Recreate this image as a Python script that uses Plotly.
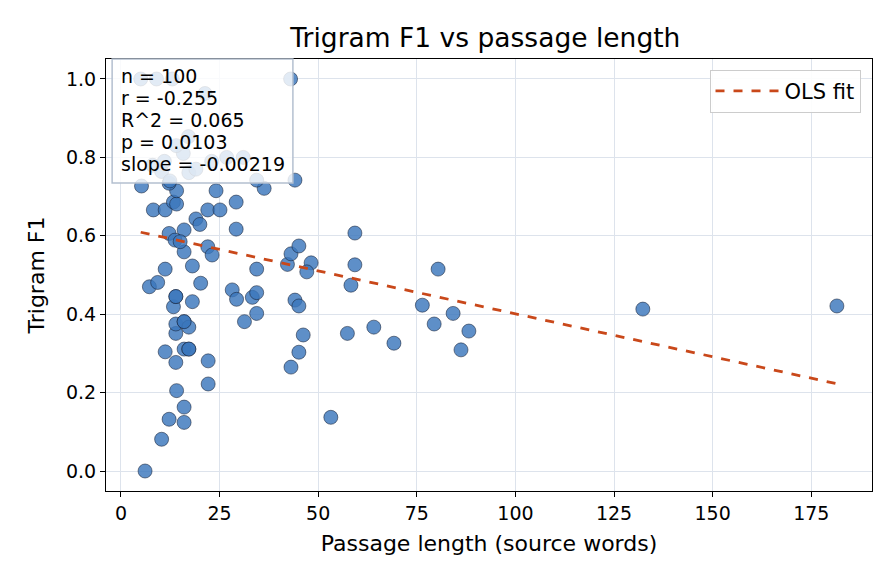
import plotly.graph_objects as go

# Passage length (source words) and Trigram F1 values
passage_len = [6.1, 10.3, 12.2, 16.0, 16.0, 14.1, 22.1, 22.1, 13.9, 11.2,
               16.0, 17.2, 13.9, 13.9, 16.0, 17.2, 13.3, 13.9, 18.1, 7.2,
               9.3, 20.2, 11.2, 18.1, 28.2, 29.3, 33.3, 34.4, 34.4, 31.3,
               34.4, 22.0, 23.1, 16.0, 12.2, 16.0, 13.7, 15.0, 19.0, 20.0,
               29.2, 8.2, 11.2, 22.0, 25.1, 13.3, 14.1, 29.2, 24.1, 14.1,
               12.2, 5.2, 36.3, 44.1, 34.4, 43.0, 42.2, 43.1, 45.1, 48.2,
               47.1, 44.1, 45.1, 46.2, 45.1, 43.1, 53.2, 57.4, 58.3, 59.3,
               59.3, 64.1, 69.2, 76.4, 79.4, 80.4, 84.2, 86.2, 88.2, 132.3,
               181.5, 10.3, 17.2, 15.8, 17.1, 31.0, 21.3, 5.0, 9.0, 13.0,
               12.4, 16.0, 17.2, 13.9, 26.8, 11.0, 14.0, 8.0, 19.0, 23.0]
trigram_f1 = [0.000, 0.081, 0.132, 0.124, 0.163, 0.205, 0.222, 0.281, 0.277, 0.304,
              0.311, 0.311, 0.351, 0.375, 0.381, 0.367, 0.419, 0.445, 0.432, 0.470,
              0.481, 0.479, 0.515, 0.523, 0.462, 0.438, 0.443, 0.455, 0.402, 0.381,
              0.515, 0.572, 0.551, 0.559, 0.606, 0.615, 0.589, 0.585, 0.643, 0.629,
              0.617, 0.666, 0.666, 0.666, 0.666, 0.686, 0.681, 0.686, 0.715, 0.715,
              0.734, 0.727, 0.721, 0.742, 0.742, 1.000, 0.527, 0.554, 0.574, 0.531,
              0.508, 0.436, 0.421, 0.347, 0.303, 0.265, 0.137, 0.351, 0.474, 0.526,
              0.607, 0.367, 0.326, 0.423, 0.375, 0.515, 0.402, 0.309, 0.357, 0.413,
              0.421, 0.764, 0.761, 0.810, 0.853, 0.800, 0.963, 1.000, 1.000, 1.000,
              0.740, 0.381, 0.311, 0.445, 0.800, 0.790, 0.830, 0.780, 0.770, 0.790]

# OLS fit parameters (from the stats box)
ols_slope = -0.00219
ols_intercept = 0.620
stats_lines = ["n = 100", "r = -0.255", "R^2 = 0.065", "p = 0.0103", "slope = -0.00219"]

x_ticks = [0, 25, 50, 75, 100, 125, 150, 175]
y_ticks = [0.0, 0.2, 0.4, 0.6, 0.8, 1.0]

FONT = "DejaVu Sans"

fit_x = [min(passage_len), max(passage_len)]
fit_y = [ols_intercept + ols_slope * v for v in fit_x]

fig = go.Figure()
fig.add_trace(go.Scatter(
    x=passage_len, y=trigram_f1, mode="markers", showlegend=False,
    marker=dict(size=14, color="rgba(58,118,188,0.82)",
                line=dict(color="rgba(20,30,50,0.9)", width=0.6)),
))
fig.add_trace(go.Scatter(
    x=fit_x, y=fit_y, mode="lines", name="OLS fit",
    line=dict(color="#c9481a", width=2.8, dash="dash"),
))

# stats box
fig.add_shape(type="rect", xref="paper", yref="paper",
              x0=0.008, x1=0.244, y0=0.713, y1=1.0, layer="above",
              fillcolor="rgba(255,255,255,0.82)",
              line=dict(color="#b4c0d0", width=1.5))
line_y_px = [76, 98, 120, 142, 164]
for txt, py in zip(stats_lines, line_y_px):
    fig.add_annotation(xref="paper", yref="paper", x=0.0175,
                       y=(491 - py) / 432.0, text=txt, showarrow=False,
                       xanchor="left", yanchor="middle",
                       font=dict(family=FONT, size=19, color="black"))

axis_common = dict(showline=True, mirror=True, linecolor="black", linewidth=1.2,
                   ticks="outside", ticklen=5, tickwidth=1.2, tickcolor="black",
                   showgrid=True, gridcolor="#dde3ec", gridwidth=1.2, zeroline=False,
                   tickfont=dict(family=FONT, size=19, color="black"))

fig.update_layout(
    width=896, height=584,
    margin=dict(l=106, r=24, t=59, b=93),
    paper_bgcolor="white", plot_bgcolor="white",
    font=dict(family=FONT, color="black"),
    title=dict(text="Trigram F1 vs passage length", x=0.5417, xanchor="center",
               y=0.935, yanchor="middle", font=dict(family=FONT, size=26.5, color="black")),
    legend=dict(x=0.985, y=0.975, xanchor="right", yanchor="top", itemwidth=64,
                bgcolor="rgba(255,255,255,0.9)", bordercolor="#cccccc", borderwidth=1,
                font=dict(family=FONT, size=21, color="black")),
    xaxis=dict(range=[-3.8, 190.4], tickvals=x_ticks,
               title=dict(text="Passage length (source words)", standoff=12,
                          font=dict(family=FONT, size=22)), **axis_common),
    yaxis=dict(range=[-0.051, 1.051], tickvals=y_ticks, tickformat=".1f",
               title=dict(text="Trigram F1", standoff=15,
                          font=dict(family=FONT, size=22)), **axis_common),
)

fig.write_html("out.html")
